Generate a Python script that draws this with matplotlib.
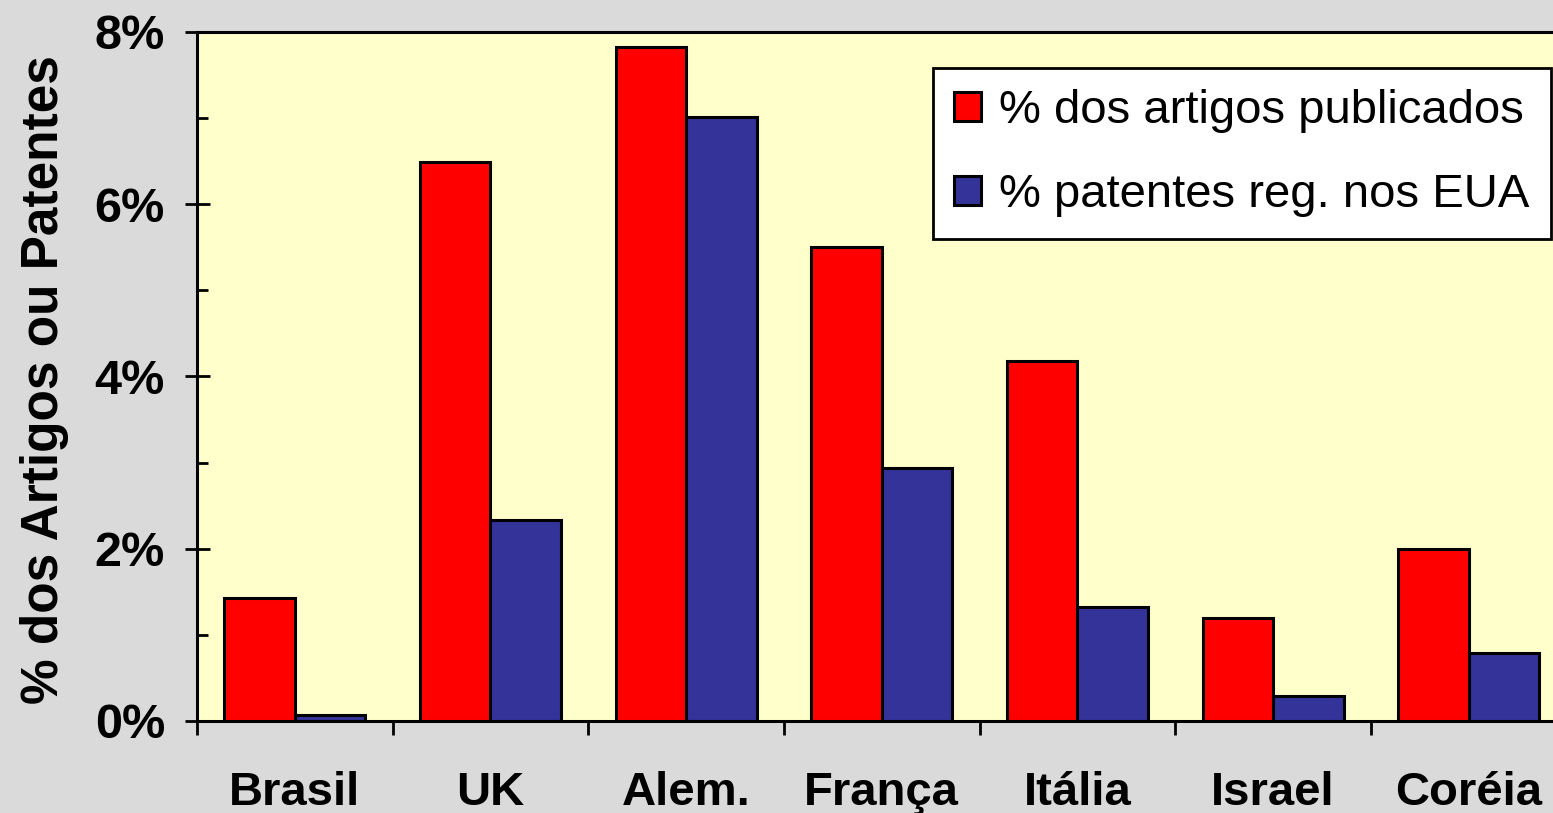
import matplotlib
matplotlib.use('Agg')
import numpy as np
from matplotlib import pyplot as plt
from matplotlib.ticker import FixedLocator, FuncFormatter

plt.rcParams['font.family'] = ['Liberation Sans', 'DejaVu Sans']

countries = ['Brasil', 'UK', 'Alem.', 'França', 'Itália', 'Israel', 'Coréia']
artigos = [1.43, 6.49, 7.82, 5.50, 4.18, 1.20, 2.00]
patentes = [0.07, 2.33, 7.01, 2.94, 1.32, 0.29, 0.79]
seriesNames = ['% dos artigos publicados', '% patentes reg. nos EUA']

fig = plt.figure(figsize=(15.53, 8.13), dpi=100)
fig.set_facecolor('#dadada')
ax = fig.add_axes([0.1268, 0.1132, 0.882, 0.8475])
ax.set_facecolor('#ffffcc')

x = np.arange(len(countries))
barWidth = 0.36
ax.bar(x - barWidth/2, artigos, barWidth, color='#ff0000',
       edgecolor='black', linewidth=2.2, label=seriesNames[0], zorder=3)
ax.bar(x + barWidth/2, patentes, barWidth, color='#333399',
       edgecolor='black', linewidth=2.2, label=seriesNames[1], zorder=3)

ax.set_xlim(-0.5, len(countries) - 0.5)
ax.set_ylim(0, 8)

# y ticks
ax.yaxis.set_major_locator(FixedLocator([0, 2, 4, 6, 8]))
ax.yaxis.set_minor_locator(FixedLocator([1, 3, 5, 7]))
ax.yaxis.set_major_formatter(FuncFormatter(lambda v, p: '{:.0f}%'.format(v)))
ax.tick_params(axis='y', which='major', direction='inout', length=18,
               width=2, pad=14, labelsize=35)
ax.tick_params(axis='y', which='minor', direction='in', length=8, width=2)
for lbl in ax.get_yticklabels():
    lbl.set_fontweight('bold')

# x ticks: labels at centres, marks at boundaries
ax.set_xticks(x)
ax.set_xticklabels(countries, fontweight='bold')
ax.set_xticks(np.arange(-0.5, len(countries), 1.0), minor=True)
ax.tick_params(axis='x', which='major', length=0, pad=36, labelsize=34)
ax.tick_params(axis='x', which='minor', direction='out', length=10, width=2)

for spine in ax.spines.values():
    spine.set_linewidth(2.2)
    spine.set_color('black')

ax.set_ylabel('% dos Artigos ou Patentes', fontsize=37, fontweight='bold')
ax.yaxis.set_label_coords(-0.0934, 0.495)

leg = ax.legend(loc='upper left', bbox_to_anchor=(0.6008, 0.9164),
                bbox_transform=fig.transFigure, borderaxespad=0,
                fontsize=34, frameon=True, fancybox=False,
                handlelength=0.57, handleheight=0.57, handletextpad=0.38,
                labelspacing=0.85, borderpad=0.45)
leg.get_frame().set_edgecolor('black')
leg.get_frame().set_linewidth(2)
leg.get_frame().set_facecolor('white')
leg.get_frame().set_alpha(1)

fig.savefig('out.png', dpi=100, facecolor=fig.get_facecolor())
